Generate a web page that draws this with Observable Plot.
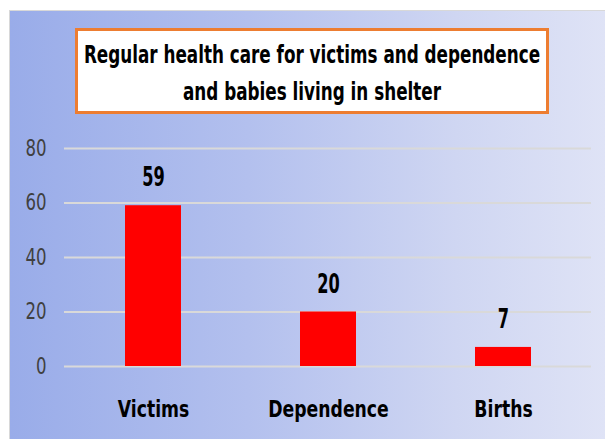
<!DOCTYPE html>
<html>
<head>
<meta charset="utf-8">
<script src="https://cdn.jsdelivr.net/npm/d3@7"></script>
<script src="https://cdn.jsdelivr.net/npm/@observablehq/plot@0.6"></script>
<style>
  html, body { margin: 0; padding: 0; background: #fff; }
  #wrap { position: relative; width: 605px; height: 439px; overflow: hidden; background: #fff; }
  #bg { position: absolute; left: 9px; top: 10px; right: 0; bottom: 0;
        border-left: 1px solid #d8d8d8; border-top: 1px solid #d8d8d8;
        background: linear-gradient(to right, #99ace9 0%, #b3c0ee 40%, #cfd6f2 75%, #dfe3f6 100%); }
  #title { position: absolute; left: 75px; top: 28px; width: 474px; height: 86px; box-sizing: border-box;
           border: 3px solid #ed7d31; background: #fff;
           font-family: "DejaVu Sans", sans-serif; white-space: nowrap;
           font-weight: bold; font-size: 24px; line-height: 37px; color: #000; }
  #title span { position: absolute; left: 50%; display: block;
                transform: translateX(-50%) scaleX(0.70); transform-origin: 50% 50%; }
  #chart { position: absolute; left: 0; top: 0; }
  #chart svg { background: transparent; }
</style>
</head>
<body>
<div id="wrap">
  <div id="bg"></div>
  <div id="chart"></div>
  <div id="title"><span style="top:6px">Regular health care for victims and dependence</span><span style="top:43px">and babies living in shelter</span></div>
</div>
<script>
const categories = ["Victims", "Dependence", "Births"];
const values = [59, 20, 7];
const yTicks = [0, 20, 40, 60, 80];

const data = categories.map((c, i) => ({category: c, value: values[i]}));
const font = '"DejaVu Sans", sans-serif';

const chart = Plot.plot({
  width: 605,
  height: 439,
  marginLeft: 64,
  marginRight: 14,
  marginTop: 148,
  marginBottom: 73,
  style: {background: "transparent", fontFamily: font},
  x: {domain: categories, paddingInner: 0.68, paddingOuter: 0.34, label: null},
  y: {domain: [0, 80], ticks: yTicks, label: null},
  marks: [
    Plot.ruleY(yTicks, {stroke: "#d9d9d9", strokeWidth: 2}),
    Plot.barY(data, {x: "category", y: "value", fill: "#ff0000"}),
    Plot.text(data, {x: "category", y: "value", text: d => String(d.value), dy: -28,
      fontSize: 27, fontWeight: "bold", fill: "#000"}),
    Plot.axisY({ticks: yTicks, tickSize: 0, tickPadding: 18, fontSize: 23, fill: "#404040", label: null}),
    Plot.axisX({tickSize: 0, tickPadding: 34, fontSize: 23, fontWeight: "bold", fill: "#000", label: null})
  ]
});

// horizontally condense text (the reference uses a narrow font)
function condense(selector, s) {
  chart.querySelectorAll(selector).forEach(t => {
    const tr = t.getAttribute("transform") || "";
    t.setAttribute("transform", tr + ` scale(${s},1)`);
  });
}
condense('g[aria-label="y-axis tick label"] text', 0.72);
condense('g[aria-label="x-axis tick label"] text', 0.75);
condense('g[aria-label="text"] text', 0.6);

document.getElementById("chart").appendChild(chart);
</script>
</body>
</html>
